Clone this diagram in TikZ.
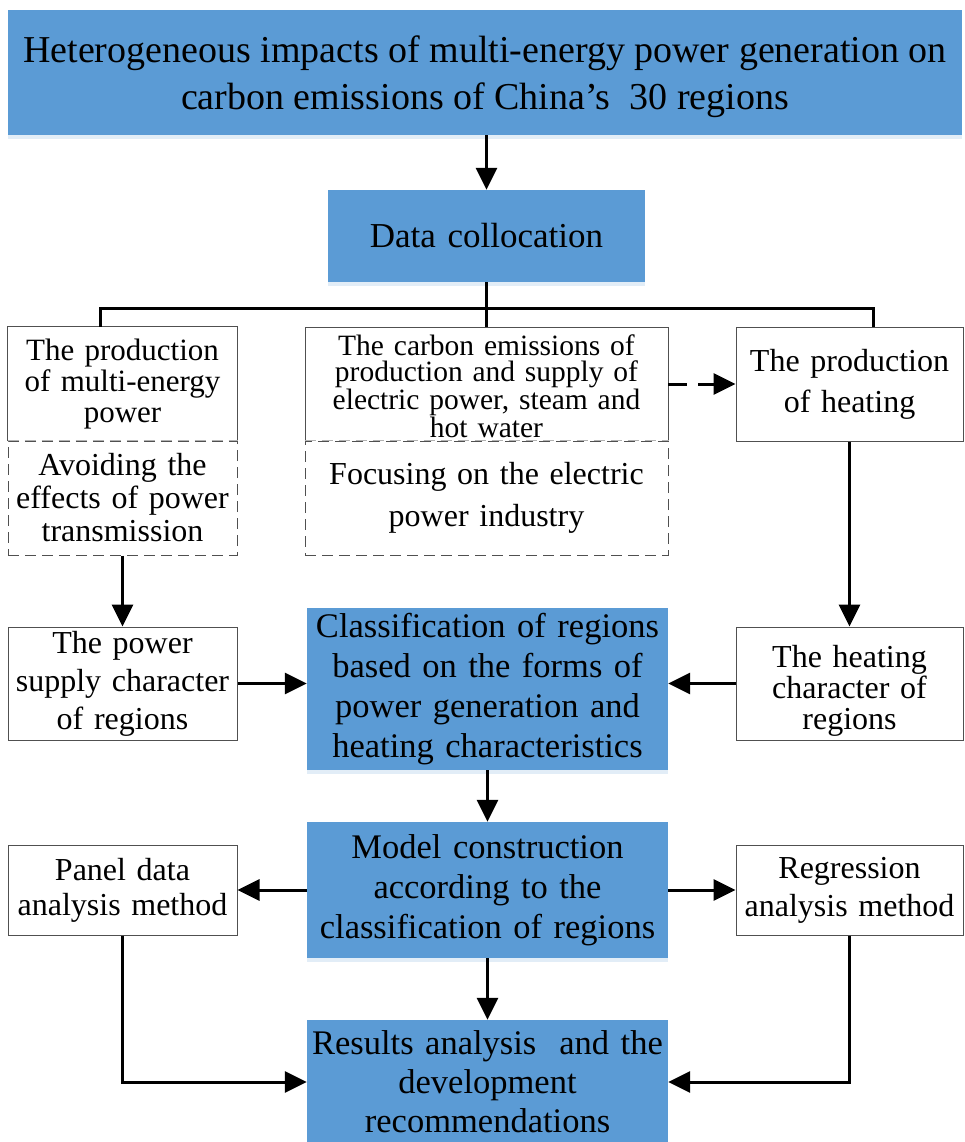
\documentclass[tikz,border=0pt]{standalone}
\usepackage{fontspec}
\setmainfont{Liberation Serif}
\usetikzlibrary{arrows.meta,shadows}
\definecolor{boxblue}{RGB}{91,155,213}
\definecolor{edge}{RGB}{80,80,80}
\newcommand\fsz[2]{\fontsize{#1}{#2}\selectfont}
\begin{document}
\begin{tikzpicture}[x=1pt,y=-1pt,
  bluebox/.style={fill=boxblue, draw=none, inner sep=0pt, align=center,
    drop shadow={shadow xshift=0pt, shadow yshift=-4pt, fill=boxblue!35, opacity=0.5}},
  wbox/.style={fill=white, draw=edge, line width=1pt, inner sep=0pt, align=center},
  plainbox/.style={fill=none, draw=none, inner sep=0pt, align=center},
  dbox/.style={fill=none, draw=edge, dash pattern=on 11pt off 6pt, line width=1pt, inner sep=0pt, align=center},
  divider/.style={draw=gray!60, line width=1pt, dash pattern=on 11pt off 6pt},
  conn/.style={line width=3pt, draw=black},
  arr/.style={line width=3pt, draw=black, -{Triangle[length=22pt,width=21pt]}},
  darr/.style={line width=3pt, draw=black, dash pattern=on 19pt off 11pt, -{Triangle[length=22pt,width=21pt]}}
]
\useasboundingbox (0,0) rectangle (965,1142);
\fill[white] (0,0) rectangle (965,1142);

% title
\node[bluebox, minimum width=954pt, minimum height=125pt] (title) at (485,72.5) {};
\node[plainbox, font=\fsz{38}{47}] (titletext) at (485,77)
  {Heterogeneous impacts of multi-energy power generation on\\carbon emissions of China’s\ \ 30 regions};

% data collocation
\node[bluebox, minimum width=317pt, minimum height=92pt, text width=310pt, font=\fsz{35}{40}] (data) at (486.5,236) {Data collocation};

% left column upper boxes
\node[plainbox, minimum width=229pt, minimum height=114pt, text width=225pt, font=\fsz{31}{31}] (L1) at (122.5,384)
  {The production\\of multi-energy\\power};
\node[dbox, minimum width=229pt, minimum height=114pt, text width=225pt, font=\fsz{32}{33}] (L2) at (122.5,498)
  {Avoiding the\\effects of power\\transmission};
\draw[draw=edge, line width=1pt] (L1.south west) -- (L1.north west) -- (L1.north east) -- (L1.south east);
\draw[divider] (L2.north west) -- (L2.north east);

% middle column upper boxes
\node[plainbox, minimum width=363pt, minimum height=114pt, text width=355pt, font=\fsz{29.5}{26.5}] (M1) at (486.5,386)
  {The carbon emissions of\\production and supply of\\electric power, steam and\\hot water};
\node[dbox, minimum width=363pt, minimum height=114pt, text width=355pt, font=\fsz{32}{42}] (M2) at (486.5,498)
  {Focusing on the electric\\power industry};
\draw[draw=edge, line width=1pt] (305,441) -- (305,327) -- (668,327) -- (668,441);
\draw[divider] (M2.north west) -- (M2.north east);

% right column upper box
\node[wbox, minimum width=227pt, minimum height=114pt, text width=222pt, font=\fsz{32}{41}] (R1) at (849.5,384)
  {The production\\of heating};

% second row
\node[wbox, minimum width=229pt, minimum height=113pt, text width=225pt, font=\fsz{32}{38}] (P) at (122.5,683.5)
  {The power\\supply character\\of regions};
\node[bluebox, minimum width=361pt, minimum height=162pt, text width=355pt, font=\fsz{34.5}{40}] (C) at (487.5,689)
  {Classification of regions\\based on the forms of\\power generation and\\heating characteristics};
\node[wbox, minimum width=227pt, minimum height=113pt] (H) at (849.5,683.5) {};
\node[plainbox, text width=222pt, font=\fsz{32}{31}] (Ht) at (849.5,691)
  {The heating\\character of\\regions};

% third row
\node[wbox, minimum width=229pt, minimum height=90pt, text width=225pt, font=\fsz{32}{35}] (PD) at (122.5,890)
  {Panel data\\analysis method};
\node[bluebox, minimum width=361pt, minimum height=136pt, text width=355pt, font=\fsz{34.5}{40}] (MC) at (487.5,890)
  {Model construction\\according to the\\classification of regions};
\node[wbox, minimum width=227pt, minimum height=90pt, text width=222pt, font=\fsz{32}{38}] (RA) at (849.5,890)
  {Regression\\analysis method};

% results
\node[bluebox, minimum width=361pt, minimum height=124pt, text width=355pt, font=\fsz{34.5}{39}] (RS) at (487.5,1082)
  {Results analysis\ \ and the\\development\\recommendations};

% connectors
\draw[arr] (title.south -| data.north) -- (data.north);
\coordinate (tl) at (100,308);
\coordinate (tr) at (873,308);
\coordinate (tm) at (486.5,308);
\draw[conn] (data.south) -- (tm);
\draw[conn] (tl |- L1.north) -- (tl) -- (tr) -- (tr |- R1.north);
\draw[conn] (tm) -- (tm |- L1.north);
\draw[darr] (668,384) -- (R1.west);
\draw[arr] (L2.south) -- (P.north);
\draw[arr] (R1.south) -- (H.north);
\draw[arr] (P.east) -- (P.east -| C.west);
\draw[arr] (H.west) -- (H.west -| C.east);
\draw[arr] (C.south) -- (MC.north);
\draw[arr] (MC.west) -- (PD.east);
\draw[arr] (MC.east) -- (RA.west);
\draw[arr] (MC.south) -- (RS.north);
\draw[arr] (PD.south) -- (PD.south |- RS.west) -- (RS.west);
\draw[arr] (RA.south) -- (RA.south |- RS.east) -- (RS.east);
\end{tikzpicture}
\end{document}
